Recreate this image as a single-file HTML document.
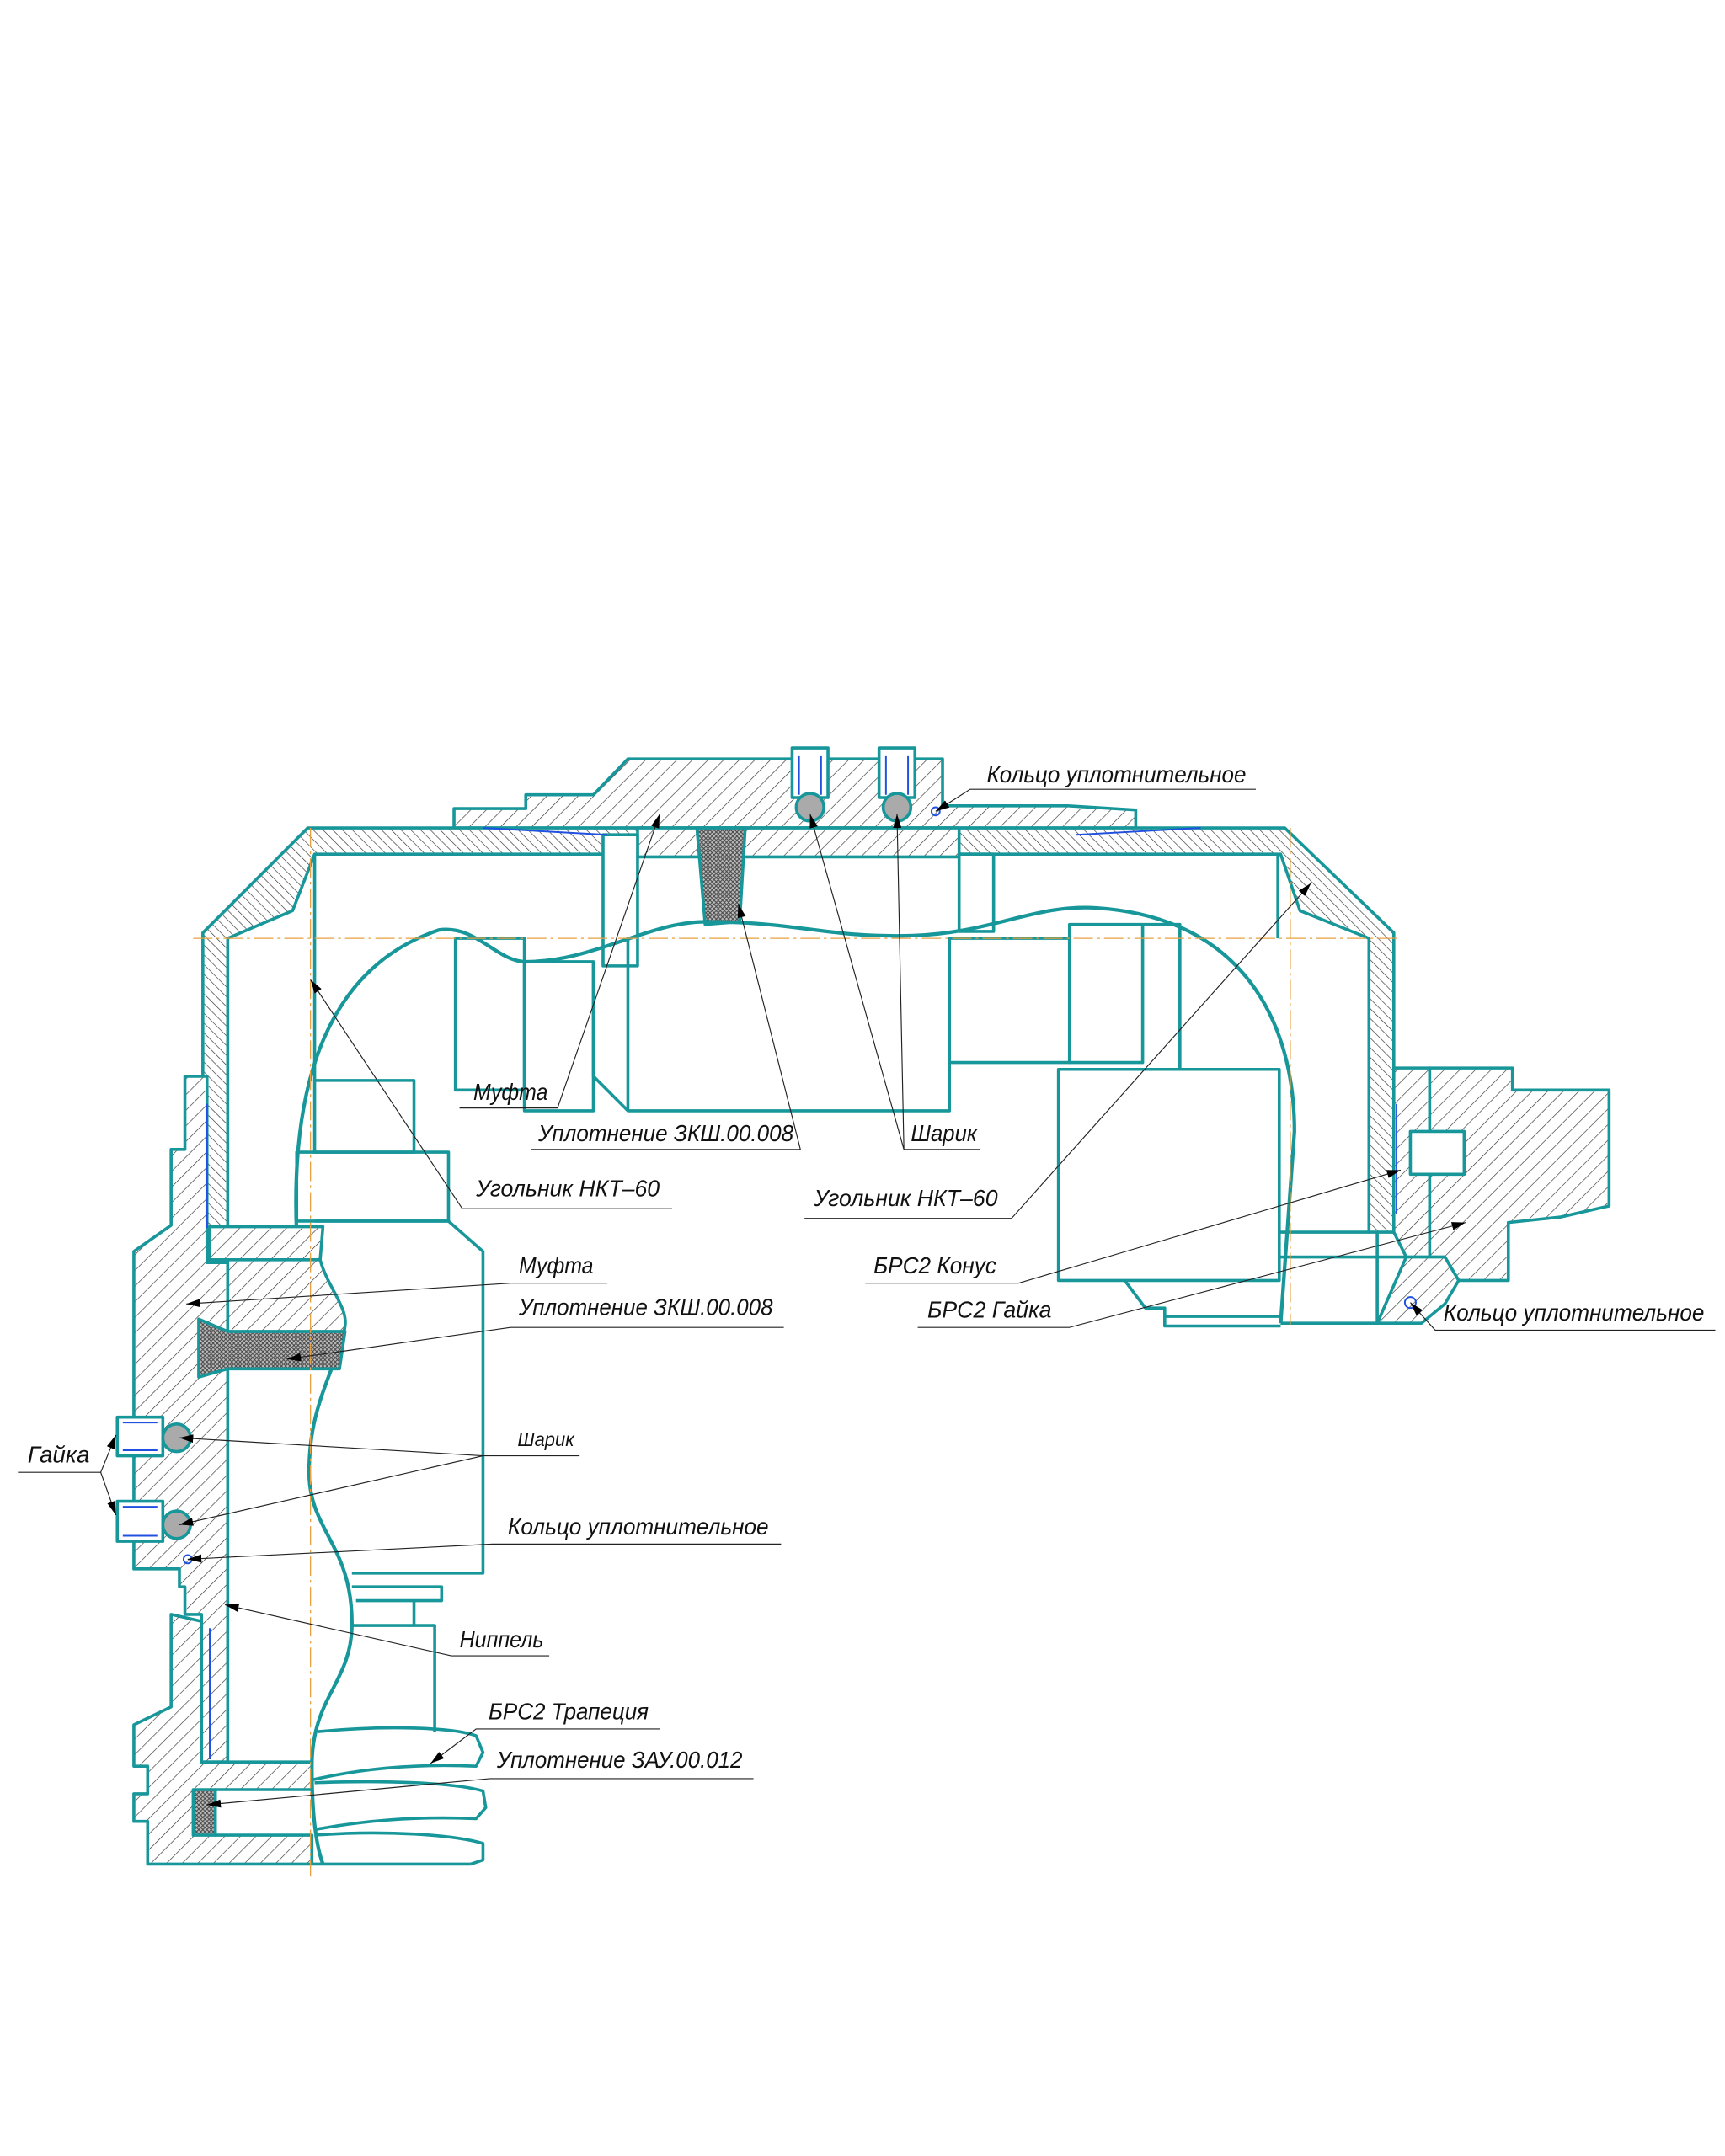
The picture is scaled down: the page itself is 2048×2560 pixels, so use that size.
<!DOCTYPE html>
<html><head><meta charset="utf-8"><style>
html,body{margin:0;padding:0;background:#fff}
svg{display:block}
text{font-family:"Liberation Sans",sans-serif;font-style:italic;fill:#111;font-size:17px}
</style></head><body>
<svg width="2048" height="2560" viewBox="0 0 1250 1562.5" xmlns="http://www.w3.org/2000/svg">
<defs>
<pattern id="h" patternUnits="userSpaceOnUse" width="8" height="8" patternTransform="rotate(45)">
<rect width="8" height="8" fill="#fff"/><line x1="0" y1="0" x2="0" y2="8" stroke="#333" stroke-width="0.8"/></pattern>
<pattern id="h2" patternUnits="userSpaceOnUse" width="5" height="5" patternTransform="rotate(-45)">
<rect width="5" height="5" fill="#fff"/><line x1="0" y1="0" x2="0" y2="5" stroke="#333" stroke-width="0.8"/></pattern>
<pattern id="x" patternUnits="userSpaceOnUse" width="3" height="3">
<rect width="3" height="3" fill="#bbb"/><path d="M0 0L3 3M3 0L0 3" stroke="#444" stroke-width="0.6"/></pattern>
<marker id="a" markerWidth="10" markerHeight="6" refX="10" refY="3" orient="auto" markerUnits="userSpaceOnUse"><path d="M0 0L10 3L0 6z" fill="#000"/></marker>
</defs>
<g stroke="#17979a" stroke-width="2.2" stroke-linejoin="round" fill="none">
<path fill="url(#h)" d="M329,600 L329,586 L381,586 L381,576 L430,576 L455,550 L683,550 L683,584 L774,584 L823,587 L823,600 Z"/>
<path fill="url(#h2)" d="M223,600 L931,600 L1010,676 L1010,893 L992,893 L992,680 L942,660 L928,619 L228,619 L212,660 L165,680 L165,915 L147,915 L147,676 Z"/>
<path fill="url(#h)" d="M462,600 L695,600 L695,621 L462,621 Z"/>
<rect x="437" y="605" width="25" height="95" fill="#fff"/>
<rect x="695" y="619" width="25" height="56" fill="#fff"/>
<path fill="url(#x)" d="M505,600 L540,600 L536,668 L511,670 Z"/>
<rect x="574" y="542" width="26" height="36" fill="#fff"/><rect x="637" y="542" width="26" height="36" fill="#fff"/>
<circle cx="587" cy="585" r="10" fill="#aaa"/><circle cx="650" cy="585" r="10" fill="#aaa"/>
<path d="M228,619 L228,783 M926,619 L926,680"/>
<rect x="330" y="680" width="50" height="110"/>
<rect x="380" y="697" width="50" height="108"/>
<path d="M430,697 L430,780 L455,805 L688,805 L688,680"/>
<path d="M455,680 L455,805"/>
<rect x="688" y="680" width="87" height="90"/>
<rect x="775" y="670" width="53" height="100"/>
<path d="M828,670 L855,670 L855,778"/>
<rect x="767" y="775" width="160" height="153" fill="#fff"/>
<path d="M815,928 L830,948 L844,948 L844,961 L928,961 M844,954 L928,954"/>
<path stroke-width="2.6" d="M215,895 C210,780 240,700 318,674 C345,670 360,697 381,697 C430,697 470,668 511,668 C580,668 600,680 662,678 C720,676 750,655 795,658 C900,665 938,740 938,820 L928,959"/>
<path stroke-width="2.6" d="M215,895 C215,940 255,950 249,965 C240,1000 224,1020 224,1067 C224,1110 256,1120 255,1179 C254,1220 226,1230 226,1280 C226,1320 230,1340 234,1351"/>
<rect x="228" y="783" width="72" height="52"/>
<rect x="215" y="835" width="110" height="50"/>
<path d="M228,885 L325,885 L350,907 L350,1140 L255,1140"/>
<path d="M255,1150 L320,1150 L320,1160 L258,1160 M300,1160 L300,1178 M255,1178 L315,1178 L315,1255"/>
<path fill="url(#h)" d="M134,780 L150,780 L150,915 L165,915 L165,1277 L146,1277 L146,1170 L134,1170 L134,1150 L130,1150 L130,1137 L97,1137 L97,907 L124,888 L124,833 L134,833 Z"/>
<path fill="url(#h)" d="M152,889 L234,889 L232,913 L152,913 Z"/>
<path fill="url(#h)" d="M165,913 L232,913 C238,935 255,950 249,965 L165,965 Z"/>
<path fill="url(#x)" d="M144,956 L165,965 L250,965 L246,992 L165,992 L144,998 Z"/>
<rect x="85" y="1027" width="33" height="28" fill="#fff"/><rect x="85" y="1088" width="33" height="29" fill="#fff"/>
<circle cx="128" cy="1042" r="10" fill="#aaa"/><circle cx="128" cy="1105" r="10" fill="#aaa"/>
<path fill="url(#h)" d="M124,1170 L146,1175 L146,1277 L226,1277 L226,1297 L156,1297 L156,1330 L226,1330 L226,1351 L107,1351 L107,1320 L97,1320 L97,1300 L107,1300 L107,1280 L97,1280 L97,1250 L124,1237 Z"/>
<rect x="140" y="1297" width="16" height="33" fill="url(#x)"/>
<path d="M226,1351 L341,1351"/>
<path d="M230,1255 C280,1250 330,1252 345,1258 L350,1270 L345,1280 C300,1278 260,1282 226,1290 M228,1292 C280,1290 330,1292 350,1298 L352,1310 L345,1318 C300,1316 260,1320 228,1326 M228,1330 C280,1326 330,1330 350,1336 L350,1348 L341,1351"/>
<path fill="url(#h)" d="M1010,774 L1036,774 L1036,911 L1019,911 L1010,893 Z"/>
<path fill="url(#h)" d="M1036,774 L1096,774 L1096,790 L1166,790 L1166,874 L1131,882 L1093,886 L1093,928 L1057,928 L1047,911 L1036,911 Z"/>
<rect x="1022" y="820" width="39" height="31" fill="#fff"/>
<path fill="url(#h)" d="M1019,911 L1047,911 L1057,928 L1047,945 L1030,959 L998,959 Z"/>
<path d="M928,893 L992,893 M928,911 L1019,911 M928,959 L998,959 M998,893 L998,959"/>
</g>
<g stroke="#e8a040" stroke-width="0.8" stroke-dasharray="14,3,2,3" fill="none">
<path d="M140,680 L1015,680 M225,600 L225,1360 M935,600 L935,960"/>
</g>
<g stroke="#2050e0" stroke-width="1.2" fill="none">
<path d="M150,800 L150,890 M152,1180 L152,1275 M1012,800 L1012,880 M350,600 L440,605 M780,605 L870,600"/>
<path d="M579,548 L579,576 M595,548 L595,576 M642,548 L642,576 M658,548 L658,576 M89,1031 L114,1031 M89,1051 L114,1051 M89,1092 L114,1092 M89,1113 L114,1113"/>
<circle cx="678" cy="588" r="3"/><circle cx="136" cy="1130" r="3"/><circle cx="1022" cy="944" r="4"/>
</g>
<g stroke="#222" stroke-width="0.7" fill="none">
<path d="M910,572 L703,572 L678,588" marker-end="url(#a)"/>
<path d="M333,803 L404,803 L478,590" marker-end="url(#a)"/>
<path d="M385,833 L580,833 L535,655" marker-end="url(#a)"/>
<path d="M710,833 L655,833 L587,590" marker-end="url(#a)"/><path d="M655,833 L650,590" marker-end="url(#a)"/>
<path d="M487,876 L335,876 L225,710" marker-end="url(#a)"/>
<path d="M583,883 L733,883 L950,640" marker-end="url(#a)"/>
<path d="M440,930 L370,930 L135,945" marker-end="url(#a)"/>
<path d="M568,962 L370,962 L208,985" marker-end="url(#a)"/>
<path d="M13,1067 L73,1067 L84,1040" marker-end="url(#a)"/><path d="M73,1067 L84,1098" marker-end="url(#a)"/>
<path d="M420,1055 L350,1055 L130,1042" marker-end="url(#a)"/><path d="M350,1055 L130,1105" marker-end="url(#a)"/>
<path d="M566,1119 L357,1119 L136,1130" marker-end="url(#a)"/>
<path d="M398,1200 L327,1200 L163,1163" marker-end="url(#a)"/>
<path d="M478,1253 L345,1253 L312,1278" marker-end="url(#a)"/>
<path d="M546,1289 L355,1289 L150,1308" marker-end="url(#a)"/>
<path d="M627,930 L738,930 L1015,848" marker-end="url(#a)"/>
<path d="M665,962 L775,962 L1062,886" marker-end="url(#a)"/>
<path d="M1243,964 L1040,964 L1022,944" marker-end="url(#a)"/>
</g>
<text x="715" y="567" textLength="188" lengthAdjust="spacingAndGlyphs">Кольцо уплотнительное</text>
<text x="343" y="797" textLength="54" lengthAdjust="spacingAndGlyphs">Муфта</text>
<text x="390" y="827" textLength="185" lengthAdjust="spacingAndGlyphs">Уплотнение ЗКШ.00.008</text>
<text x="660" y="827" textLength="48" lengthAdjust="spacingAndGlyphs">Шарик</text>
<text x="345" y="867" textLength="133" lengthAdjust="spacingAndGlyphs">Угольник НКТ–60</text>
<text x="590" y="874" textLength="133" lengthAdjust="spacingAndGlyphs">Угольник НКТ–60</text>
<text x="376" y="923" textLength="54" lengthAdjust="spacingAndGlyphs">Муфта</text>
<text x="376" y="953" textLength="184" lengthAdjust="spacingAndGlyphs">Уплотнение ЗКШ.00.008</text>
<text x="20" y="1060" textLength="45" lengthAdjust="spacingAndGlyphs">Гайка</text>
<text x="375" y="1048" textLength="41" lengthAdjust="spacingAndGlyphs" style="font-size:14px">Шарик</text>
<text x="368" y="1112" textLength="189" lengthAdjust="spacingAndGlyphs">Кольцо уплотнительное</text>
<text x="333" y="1194" textLength="61" lengthAdjust="spacingAndGlyphs">Ниппель</text>
<text x="354" y="1246" textLength="116" lengthAdjust="spacingAndGlyphs">БРС2 Трапеция</text>
<text x="360" y="1281" textLength="178" lengthAdjust="spacingAndGlyphs">Уплотнение ЗАУ.00.012</text>
<text x="633" y="923" textLength="89" lengthAdjust="spacingAndGlyphs">БРС2 Конус</text>
<text x="672" y="955" textLength="90" lengthAdjust="spacingAndGlyphs">БРС2 Гайка</text>
<text x="1046" y="957" textLength="189" lengthAdjust="spacingAndGlyphs">Кольцо уплотнительное</text>
</svg>
</body></html>
